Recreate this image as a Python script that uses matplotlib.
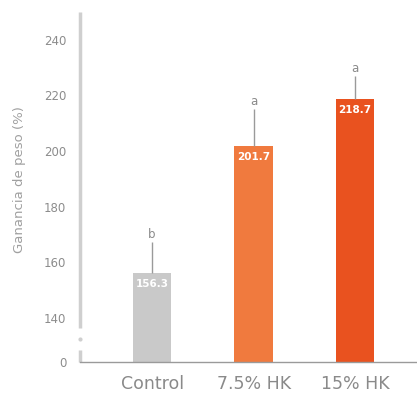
import matplotlib
matplotlib.use("Agg")
import matplotlib.pyplot as plt

categories = ["Control", "7.5% HK", "15% HK"]
values = [156.3, 201.7, 218.7]
errors = [10.9, 13.4, 8.3]
letters = ["b", "a", "a"]
value_labels = ["156.3", "201.7", "218.7"]
colors = ["#c9c9c9", "#f07a3e", "#e9521f"]

tick_values = [140, 160, 180, 200, 220, 240]
zero_pos = 124.2  # where the broken axis puts 0

fig = plt.figure(figsize=(4.17, 3.97), dpi=100)
ax = fig.add_axes([0.192, 0.088, 0.808, 0.882])

x = list(range(len(categories)))
ax.bar(x, values, width=0.38, color=colors, zorder=2)
ax.errorbar(x, values, yerr=[[0] * 3, errors], fmt="none", ecolor="#9a9a9a",
            elinewidth=1.0, capsize=0, zorder=3)

for xi, v, e, l, vl in zip(x, values, errors, letters, value_labels):
    ax.annotate(l, (xi, v + e), xytext=(0, 1), textcoords="offset points",
                ha="center", va="bottom", fontsize=8.5, color="#8a8a8a")
    ax.annotate(vl, (xi, v), xytext=(0, -8), textcoords="offset points",
                ha="center", va="center", fontsize=7.5, color="white",
                fontweight="bold", zorder=4)

ax.set_xlim(-0.71, 2.61)
ax.set_ylim(zero_pos, 250)
ax.set_yticks([zero_pos] + tick_values)
ax.set_yticklabels(["0"] + [str(t) for t in tick_values])
ax.set_xticks(x)
ax.set_xticklabels(categories)

ax.tick_params(axis="y", length=0, pad=10, labelsize=8.5, labelcolor="#8c8c8c")
ax.tick_params(axis="x", length=0, pad=9, labelsize=12.5, labelcolor="#8a8a8a")
ax.set_ylabel("Ganancia de peso (%)", fontsize=9.5, color="#a0a0a0", labelpad=10)
ax.yaxis.set_label_coords(-0.16, 0.52)

for s in ["top", "right", "left"]:
    ax.spines[s].set_visible(False)
ax.spines["bottom"].set_color("#9a9a9a")
ax.spines["bottom"].set_linewidth(1.0)

# left spine with a break near the bottom
trans = ax.get_yaxis_transform()
ax.plot([0, 0], [136.5, 250], transform=trans, color="#cfcfcf", lw=2.5,
        clip_on=False, solid_capstyle="butt", zorder=1)
ax.plot([0, 0], [zero_pos, 128.5], transform=trans, color="#cfcfcf", lw=2.5,
        clip_on=False, solid_capstyle="butt", zorder=1)
ax.plot([0], [132.5], transform=trans, marker="o", ms=2, color="#cfcfcf",
        clip_on=False)

fig.savefig("out.png", dpi=100, facecolor="white")
